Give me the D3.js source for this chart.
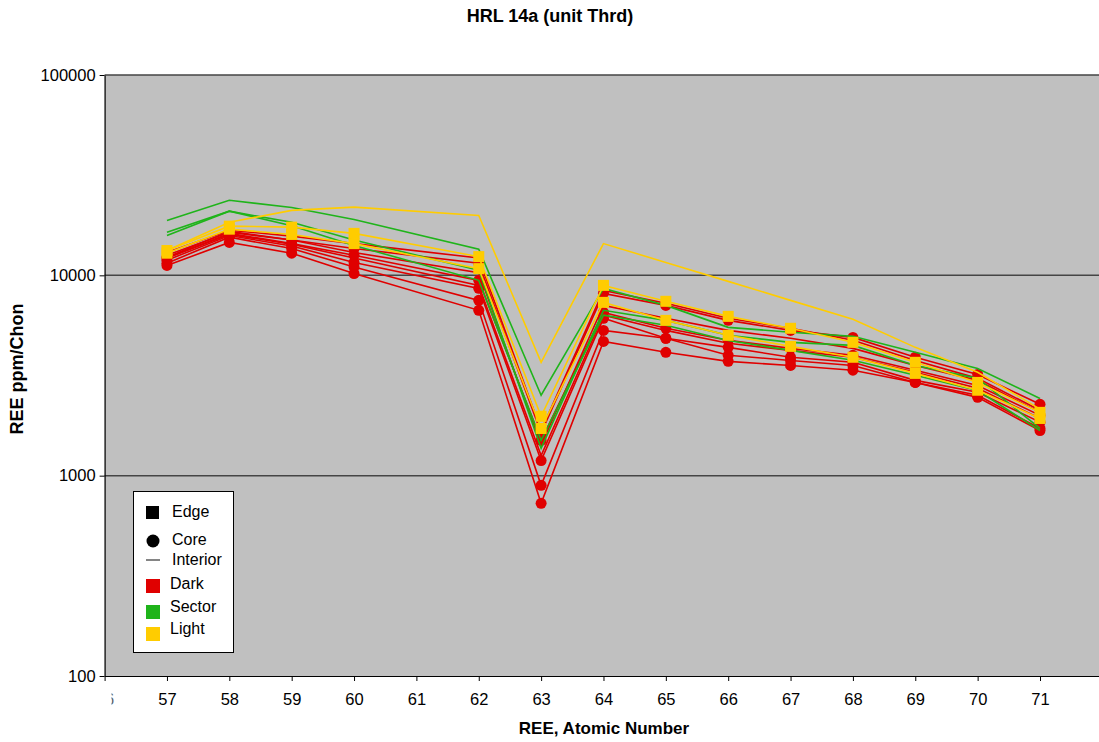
<!DOCTYPE html>
<html>
<head>
<meta charset="utf-8">
<script src="https://cdn.jsdelivr.net/npm/d3@7"></script>
<style>
  body { margin: 0; background: #fff; }
  text { font-family: Arial, "Liberation Sans", sans-serif; }
</style>
</head>
<body>
<svg id="chart" width="1099" height="742"></svg>
<script>
// atomic numbers with data (no Pm, 61)
var elements = [57, 58, 59, 60, 62, 63, 64, 65, 66, 67, 68, 69, 70, 71];
var xTicks = [56, 57, 58, 59, 60, 61, 62, 63, 64, 65, 66, 67, 68, 69, 70, 71];
var yTicks = [100, 1000, 10000, 100000];

// dark zone, core spots
var darkCore1 = [12300, 16600, 15000, 13600, 11500, 1630, 8130, 7080, 5960, 5310, 4900, 3900, 3200, 2270];
var darkCore2 = [12200, 16200, 14400, 12600, 9440, 1500, 6530, 5440, 4740, 4320, 3990, 3360, 2820, 2000];
var darkCore3 = [11900, 15800, 14000, 11600, 8610, 1190, 6100, 4850, 4370, 3900, 3680, 2990, 2610, 1850];
var darkCore4 = [11500, 15500, 13600, 11000, 7500, 895, 5310, 4850, 3990, 3760, 3550, 2920, 2520, 1720];
var darkCore5 = [11200, 14600, 12900, 10200, 6690, 728, 4680, 4130, 3720, 3550, 3360, 2920, 2460, 1680];
// dark zone, interior spots
var darkInt1 = [13000, 16800, 15700, 14400, 12200, 1680, 8410, 7250, 6100, 5440, 4740, 3760, 3060, 2120];
var darkInt2 = [12600, 16400, 15000, 13000, 10300, 1420, 7080, 6100, 5310, 4850, 4320, 3550, 2990, 2070];
var darkInt3 = [12200, 16000, 14300, 12200, 8910, 1260, 6320, 5310, 4580, 4220, 3900, 3280, 2730, 1930];
// sector zone, interior spots
var sectorInt1 = [18800, 23700, 21800, 19000, 13500, 2520, 8600, 7080, 5500, 5200, 4960, 4130, 3430, 2430];
var sectorInt2 = [16400, 20900, 18400, 15000, 10600, 1370, 6690, 5960, 5020, 4630, 4470, 3550, 3060, 1720];
var sectorInt3 = [15800, 20900, 17700, 14100, 9440, 1500, 6320, 5630, 4730, 4220, 3770, 3170, 2660, 1680];
// light zone
var lightInt1 = [13300, 18400, 21100, 21900, 19900, 3680, 14400, 11600, 9330, 7500, 6030, 4370, 3280, 2150];
var lightEdge1 = [13300, 17600, 17400, 16200, 12400, 1980, 8910, 7420, 6240, 5440, 4630, 3680, 2920, 2070];
var lightEdge2 = [12900, 17000, 16000, 14400, 10800, 1720, 7330, 5960, 5020, 4420, 3900, 3240, 2670, 1930];

var series = [
    {zone: "Dark", spot: "Interior", values: darkInt1},
    {zone: "Dark", spot: "Interior", values: darkInt2},
    {zone: "Dark", spot: "Interior", values: darkInt3},
    {zone: "Dark", spot: "Core", values: darkCore1},
    {zone: "Dark", spot: "Core", values: darkCore2},
    {zone: "Dark", spot: "Core", values: darkCore3},
    {zone: "Dark", spot: "Core", values: darkCore4},
    {zone: "Dark", spot: "Core", values: darkCore5},
    {zone: "Sector", spot: "Interior", values: sectorInt1},
    {zone: "Sector", spot: "Interior", values: sectorInt2},
    {zone: "Sector", spot: "Interior", values: sectorInt3},
    {zone: "Light", spot: "Interior", values: lightInt1},
    {zone: "Light", spot: "Edge", values: lightEdge1},
    {zone: "Light", spot: "Edge", values: lightEdge2}
];

var zoneColor = {Dark: "#e00000", Sector: "#1fb41a", Light: "#ffcc00"};

var svg = d3.select("#chart");
var plotL = 104.6, plotR = 1099, plotT = 75, plotB = 676;

var x = d3.scaleLinear().domain([56, 72]).range([plotL, plotL + 16 * 62.36]);
var y = d3.scaleLog().domain([100, 100000]).range([plotB, plotT]);

// plot background
svg.append("rect")
    .attr("x", plotL).attr("y", plotT)
    .attr("width", plotR - plotL).attr("height", plotB - plotT)
    .attr("fill", "#c0c0c0");

// gridlines
svg.selectAll("line.grid")
    .data(yTicks.slice(1))
    .enter().append("line")
    .attr("x1", plotL).attr("x2", plotR)
    .attr("y1", d => y(d)).attr("y2", d => y(d))
    .attr("stroke", "#454545").attr("stroke-width", 1.5);

// axes
var yAxis = d3.axisLeft(y).tickValues(yTicks).tickFormat(d3.format("d")).tickSizeInner(5).tickSizeOuter(0).tickPadding(4);
var yg = svg.append("g").attr("transform", `translate(${plotL},0)`).call(yAxis);
yg.select(".domain").attr("stroke", "#000").attr("stroke-width", 1.2);
yg.selectAll("text").attr("font-size", 16.5).attr("fill", "#000");

svg.append("clipPath").attr("id", "xclip")
    .append("rect").attr("x", 111).attr("y", 680).attr("width", 1000).attr("height", 40);

var xAxis = d3.axisBottom(x).tickValues(xTicks).tickFormat(d3.format("d")).tickSizeInner(5).tickSizeOuter(0).tickPadding(12);
var xg = svg.append("g").attr("transform", `translate(0,${plotB})`).call(xAxis);
xg.select(".domain").attr("stroke", "#000").attr("stroke-width", 1.2);
xg.selectAll("text").attr("font-size", 16.5).attr("fill", "#000");
xg.selectAll(".tick").filter(d => d == 56).select("text")
    .attr("transform", `translate(${-x(56)},${-plotB})`)
    .attr("x", x(56)).attr("y", plotB + 17)
    .attr("fill", "#666")
    .attr("clip-path", "url(#xclip)");

// series
var line = d3.line()
    .x((d, i) => x(elements[i]))
    .y(d => y(d));

var plot = svg.append("g");
var order = ["Dark", "Sector", "Light"];
order.forEach(function(zone) {
    series.filter(s => s.zone == zone).forEach(function(s) {
        plot.append("path")
            .attr("d", line(s.values))
            .attr("fill", "none")
            .attr("stroke", zoneColor[s.zone])
            .attr("stroke-width", 1.6);
    });
    series.filter(s => s.zone == zone && s.spot != "Interior").forEach(function(s) {
        if (s.spot == "Core") {
            plot.selectAll(null).data(s.values).enter().append("circle")
                .attr("cx", (d, i) => x(elements[i]))
                .attr("cy", d => y(d))
                .attr("r", 5.5)
                .attr("fill", zoneColor[s.zone]);
        } else {
            plot.selectAll(null).data(s.values).enter().append("rect")
                .attr("x", (d, i) => x(elements[i]) - 5.5)
                .attr("y", d => y(d) - 5.5)
                .attr("width", 11).attr("height", 11)
                .attr("fill", zoneColor[s.zone]);
        }
    });
});

// legend
var lg = svg.append("g");
lg.append("rect")
    .attr("x", 133.5).attr("y", 491.5).attr("width", 100).attr("height", 161)
    .attr("fill", "#fff").attr("stroke", "#000").attr("stroke-width", 1);
lg.append("rect").attr("x", 146).attr("y", 506).attr("width", 13).attr("height", 13).attr("fill", "#000");
lg.append("circle").attr("cx", 153).attr("cy", 541).attr("r", 6.5).attr("fill", "#000");
lg.append("line").attr("x1", 146).attr("x2", 160).attr("y1", 560).attr("y2", 560).attr("stroke", "#333").attr("stroke-width", 1.2);
var legendZones = ["Dark", "Sector", "Light"];
var legendZoneY = [579, 605, 627];
lg.selectAll("rect.z").data(legendZones).enter().append("rect")
    .attr("x", 146).attr("y", (d, i) => legendZoneY[i])
    .attr("width", 14).attr("height", 14)
    .attr("fill", d => zoneColor[d]);
var legendLabels = ["Edge", "Core", "Interior", "Dark", "Sector", "Light"];
var legendLabelX = [172, 172, 172, 170, 170, 170];
var legendLabelY = [517, 545, 565, 589, 612, 634];
lg.selectAll("text").data(legendLabels).enter().append("text")
    .attr("x", (d, i) => legendLabelX[i]).attr("y", (d, i) => legendLabelY[i])
    .attr("font-size", 16).attr("fill", "#000")
    .text(d => d);

// titles
svg.append("text").attr("x", 550).attr("y", 22).attr("text-anchor", "middle")
    .attr("font-size", 18).attr("font-weight", "bold").text("HRL 14a (unit Thrd)");
svg.append("text").attr("x", 604).attr("y", 734).attr("text-anchor", "middle")
    .attr("font-size", 17).attr("font-weight", "bold").text("REE, Atomic Number");
svg.append("text").attr("transform", "translate(23,369) rotate(-90)").attr("text-anchor", "middle")
    .attr("font-size", 18).attr("font-weight", "bold").text("REE ppm/Chon");
</script>
</body>
</html>
